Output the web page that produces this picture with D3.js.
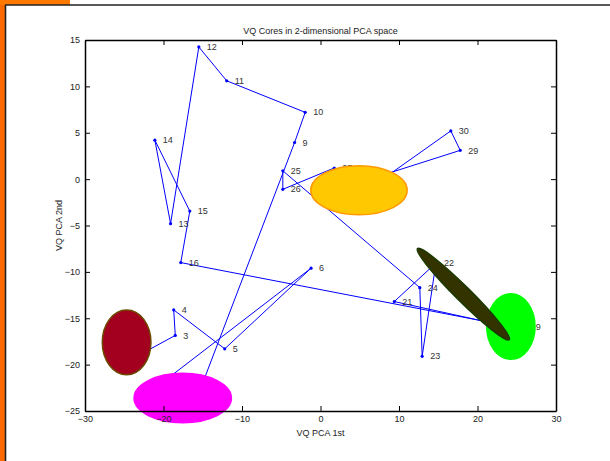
<!DOCTYPE html>
<html>
<head>
<meta charset="utf-8">
<script src="https://cdn.jsdelivr.net/npm/d3@7"></script>
<style>
html,body{margin:0;padding:0;background:#fff;}
svg{display:block;font-family:"Liberation Sans",Arial,sans-serif;}
</style>
</head>
<body>
<svg id="chart" width="610" height="461"></svg>
<script>
// ---- data ----
const pointIds = [1,2,3,4,5,6,7,8,9,10,11,12,13,14,15,16,17,18,19,20,21,22,23,24,25,26,27,28,29,30,31];
const pcaX = [-25.5,-23.6,-18.5,-18.7,-12.2,-1.2,-20.4,-15.6,-3.3,-1.95,-11.95,-15.5,-19.1,-21.1,-16.65,-17.8,24.4,24.1,25.75,21.6,9.4,14.7,12.95,12.65,-4.8,-4.8,1.75,6.3,17.8,16.6,6.3];
const pcaY = [-16.8,-19.2,-16.85,-14.1,-18.3,-9.6,-22.1,-23.3,3.95,7.2,10.6,14.25,-4.8,4.2,-3.45,-9.0,-15.9,-17.3,-15.95,-15.47,-13.2,-9.05,-19.1,-11.7,0.9,-1.1,1.2,0.0,3.1,5.2,-0.97];
// cluster ellipses (centre, semi-axes in data units, rotation in degrees)
const clusterCX = [-24.7,-17.55,24.25,4.9,18.2];
const clusterCY = [-17.6,-23.6,-15.9,-1.2,-12.4];
const clusterRX = [3.1,6.2,3.08,6.14,8.23];
const clusterRY = [3.5,2.66,3.53,2.64,0.8];
const clusterRot = [0,0,0,0,44.8];
const clusterFill = ["#a30020","#ff00ff","#00ff00","#ffc800","#333300"];
const clusterStroke = ["#6b4a00","#ff00ff","#00ff00","#ff9900","#1a3a00"];
const xTicks = [-30,-20,-10,0,10,20,30];
const yTicks = [-25,-20,-15,-10,-5,0,5,10,15];

const svg = d3.select("#chart");
// window frame
svg.append("rect").attr("x",0).attr("y",0).attr("width",610).attr("height",461).attr("fill","#fff");
svg.append("rect").attr("x",0).attr("y",0).attr("width",5).attr("height",461).attr("fill","#ff6a00");
svg.append("rect").attr("x",0).attr("y",0).attr("width",70).attr("height",5).attr("fill","#ff7800");
svg.append("line").attr("x1",5).attr("x2",610).attr("y1",5).attr("y2",5).attr("stroke","#222").attr("stroke-width",1.6);
svg.append("line").attr("x1",5.5).attr("x2",5.5).attr("y1",5).attr("y2",461).attr("stroke","#222").attr("stroke-width",1.6);

const L=85, R=556, T=40, B=411;
const x = d3.scaleLinear().domain([-30,30]).range([L,R]);
const y = d3.scaleLinear().domain([-25,15]).range([B,T]);

const pts = pointIds.map((id,i)=>({id, x:pcaX[i], y:pcaY[i]}));

// path
svg.append("path")
  .attr("d", d3.line().x(d=>x(d.x)).y(d=>y(d.y))(pts))
  .attr("fill","none").attr("stroke","#0000ff").attr("stroke-width",1);
svg.append("g").selectAll("circle").data(pts).join("circle")
  .attr("cx",d=>x(d.x)).attr("cy",d=>y(d.y)).attr("r",1.6).attr("fill","#0000ff");
svg.append("g").selectAll("text").data(pts).join("text")
  .attr("x",d=>x(d.x)+8).attr("y",d=>y(d.y)).attr("dy","0.35em")
  .attr("font-size",9).attr("fill","#333").text(d=>d.id);

// ellipses
const pxPerX = x(1)-x(0), pxPerY = y(0)-y(1);
svg.append("g").selectAll("ellipse").data(clusterCX.map((c,i)=>i)).join("ellipse")
  .attr("transform",i=>`translate(${x(clusterCX[i])},${y(clusterCY[i])}) rotate(${clusterRot[i]})`)
  .attr("rx",i=>clusterRX[i]*pxPerX).attr("ry",i=>clusterRY[i]*pxPerY)
  .attr("fill",i=>clusterFill[i]).attr("stroke",i=>clusterStroke[i]).attr("stroke-width",1.5);

// axes
const axStyle = g=>{g.selectAll("path").attr("stroke","#000").attr("stroke-width",1.5);
  g.selectAll("line").attr("stroke","#000");
  g.selectAll("text").attr("font-size",9).attr("fill","#222").attr("font-family","Liberation Sans, Arial, sans-serif");};
svg.append("g").attr("transform",`translate(0,${B})`)
  .call(d3.axisBottom(x).tickValues(xTicks).tickSizeInner(-5).tickSizeOuter(0).tickPadding(5)).call(axStyle);
svg.append("g").attr("transform",`translate(${L},0)`)
  .call(d3.axisLeft(y).tickValues(yTicks).tickSizeInner(-5).tickSizeOuter(0).tickPadding(5)).call(axStyle);
svg.append("g").attr("transform",`translate(0,${T})`)
  .call(d3.axisTop(x).tickValues(xTicks).tickSizeInner(-5).tickSizeOuter(0).tickFormat("")).call(axStyle);
svg.append("g").attr("transform",`translate(${R},0)`)
  .call(d3.axisRight(y).tickValues(yTicks).tickSizeInner(-5).tickSizeOuter(0).tickFormat("")).call(axStyle);

// titles
svg.append("text").attr("x",(L+R)/2).attr("y",34).attr("text-anchor","middle")
  .attr("font-size",9).attr("fill","#222").text("VQ Cores in 2-dimensional PCA space");
svg.append("text").attr("x",(L+R)/2).attr("y",436).attr("text-anchor","middle")
  .attr("font-size",9).attr("fill","#222").text("VQ PCA 1st");
svg.append("text").attr("transform",`translate(62,${(T+B)/2}) rotate(-90)`).attr("text-anchor","middle")
  .attr("font-size",9).attr("fill","#222").text("VQ PCA 2nd");
</script>
</body>
</html>
